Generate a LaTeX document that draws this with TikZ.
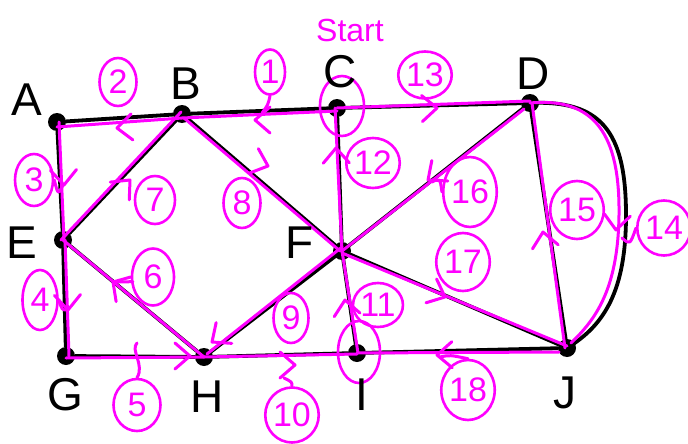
\documentclass[tikz,border=0pt]{standalone}
\usepackage{fontspec}
\setmainfont{Liberation Sans}
\usetikzlibrary{shapes.geometric}
\definecolor{mag}{HTML}{FF00FF}
\begin{document}
\begin{tikzpicture}[x=1pt,y=-1pt,
  dot/.style={circle,fill=black,inner sep=0pt,minimum size=18pt},
  lab/.style={font=\fontsize{46}{46}\selectfont,text=black,inner sep=0pt},
  edge/.style={line width=3.8pt,black,line cap=round},
  trace/.style={line width=3pt,mag,line cap=round,line join=round},
  numc/.style={draw=mag,line width=2.6pt,ellipse,text=mag,inner sep=0pt,
    font=\fontsize{34}{34}\selectfont},
  chev/.pic={\draw[trace] (-15,-13) -- (0,0) -- (-15,13);}]
\useasboundingbox (0,0) rectangle (688,444);
% vertices
\node[dot] (A) at (57,122) {};
\node[dot] (B) at (182,114) {};
\node[dot] (C) at (337,108) {};
\node[dot] (D) at (530,103) {};
\node[dot] (E) at (63,240) {};
\node[dot] (F) at (342,251) {};
\node[dot] (G) at (66,356) {};
\node[dot] (H) at (204,357) {};
\node[dot] (I) at (357,353) {};
\node[dot] (J) at (567,348) {};
% black edges
\draw[edge] (A) -- (B);
\draw[edge] (B) -- (C);
\draw[edge] (C) -- (D);
\draw[edge] (A) -- (E);
\draw[edge] (E) -- (B);
\draw[edge] (B) -- (F);
\draw[edge] (C) -- (F);
\draw[edge] (D) -- (J);
\draw[edge] (D) -- (F);
\draw[edge] (D.center) .. controls (600,100) and (626,130) .. (626,215)
   .. controls (626,290) and (605,325) .. (J.center);
\draw[edge] (E) -- (G);
\draw[edge] (E) -- (H);
\draw[edge] (F) -- (H);
\draw[edge] (F) -- (I);
\draw[edge] (F) -- (J);
\draw[edge] (G) -- (H);
\draw[edge] (H) -- (I);
\draw[edge] (I) -- (J);
% magenta traces (Euler path)
\draw[trace] ([yshift=-3pt]C.center) -- ([yshift=-4pt]B.center);
\draw[trace] ([yshift=-4pt]B.center) -- ([yshift=-5pt]A.center);
\draw[trace] ([xshift=2pt]A.center) -- ([xshift=1pt]E.center);
\draw[trace] ([xshift=2pt]E.center) -- ([xshift=3pt]G.center);
\draw[trace] ([yshift=-2pt]G.center) -- (H.center);
\draw[trace] (H.center) -- (E.center);
\draw[trace] ([xshift=-2pt]E.center) -- ([xshift=-1pt,yshift=2pt]B.center);
\draw[trace] ([xshift=2pt,yshift=-4pt]B.center) -- ([xshift=-2pt]F.center);
\draw[trace] ([yshift=4pt]F.center) -- ([xshift=3pt,yshift=3pt]H.center);
\draw[trace] (H.center) -- ([yshift=-1pt]I.center);
\draw[trace] ([xshift=1pt]I.center) -- (F.center);
\draw[trace] (F.center) -- ([xshift=-2pt]C.center);
\draw[trace] (C.center) -- ([yshift=2pt]D.center);
\draw[trace] (D.center) .. controls (595,97) and (620,135) .. (619,215)
   .. controls (618,290) and (595,320) .. ([xshift=4pt,yshift=5pt]J.center);
\draw[trace] ([xshift=-2pt]J.center) -- ([xshift=2pt]D.center);
\draw[trace] ([xshift=-6pt,yshift=-6pt]D.center) -- (F.center);
\draw[trace] ([yshift=-2pt]F.center) -- ([yshift=2pt]J.center);
\draw[trace] ([xshift=-8pt,yshift=-4pt]J.center) -- (I.center);
% circled C and I
\node[numc,minimum width=44pt,minimum height=60pt] (cC) at (342,106) {};
\node[numc,minimum width=42pt,minimum height=62pt] (cI) at (359,352) {};
% step numbers
\node[numc,minimum width=30pt,minimum height=45pt] (n1) at (270,72) {1};
\node[numc,minimum width=37pt,minimum height=48pt] (n2) at (118,82) {2};
\node[numc,minimum width=38pt,minimum height=52pt] (n3) at (34,180) {3};
\node[numc,minimum width=35pt,minimum height=60pt] (n4) at (40,300) {4};
\node[numc,minimum width=47pt,minimum height=52pt] (n5) at (137,405) {5};
\node[numc,minimum width=42pt,minimum height=57pt] (n6) at (153,277) {6};
\node[numc,minimum width=40pt,minimum height=48pt] (n7) at (155,200) {7};
\node[numc,minimum width=37pt,minimum height=50pt] (n8) at (242,203) {8};
\node[numc,minimum width=35pt,minimum height=50pt] (n9) at (291,318) {9};
\node[numc,minimum width=44pt,minimum height=55pt] (n10) at (292,415) {10};
\node[numc,minimum width=36pt,minimum height=44pt] (n11) at (378,305) {11};
\node[numc,minimum width=42pt,minimum height=50pt] (n12) at (373,163) {12};
\node[numc,minimum width=46pt,minimum height=47pt] (n13) at (425,75) {13};
\node[numc,minimum width=46pt,minimum height=55pt] (n14) at (664,228) {14};
\node[numc,minimum width=44pt,minimum height=58pt] (n15) at (577,210) {15};
\node[numc,minimum width=48pt,minimum height=70pt] (n16) at (470,192) {16};
\node[numc,minimum width=46pt,minimum height=58pt] (n17) at (463,262) {17};
\node[numc,minimum width=47pt,minimum height=60pt] (n18) at (468,390) {18};
% direction marks
\pic[rotate=180] at (255,120) {chev};
\pic[rotate=184] at (117,128) {chev};
\pic[rotate=-88] at (64,185) {chev};
\pic[rotate=-88] at (68,310) {chev};
\pic[rotate=0] at (190,356) {chev};
\pic[rotate=140] at (113,282) {chev};
\pic[rotate=47] at (130,180) {chev};
\pic[rotate=-20] at (268,166) {chev};
\pic[rotate=217] at (212,342) {chev};
\pic[rotate=0] at (295,365) {chev};
\pic[rotate=98] at (345,300) {chev};
\pic[rotate=91] at (336,148) {chev};
\pic[rotate=2] at (437,108) {chev};
\pic[rotate=-95] at (616,230) {chev};
\pic[rotate=99] at (543,232) {chev};
\pic[rotate=218] at (428,180) {chev};
\pic[rotate=-24] at (445,297) {chev};
\pic[rotate=181] at (437,355) {chev};
% leaders from numbers to marks
\draw[trace] (n1.south) .. controls (268,105) .. (262,113);
\draw[trace] (n3.east) .. controls (58,195) .. (63,185);
\draw[trace] (n4.east) .. controls (62,310) .. (67,310);
\draw[trace] (n5.north) .. controls (145,365) and (130,350) .. (137,343);
\draw[trace] (n6.west) -- (113,282);
\draw[trace] (n10.north) .. controls (292,382) .. (284,378);
\draw[trace] (n14.west) .. controls (630,245) .. (622,238);
\draw[trace] (n16.west) .. controls (440,178) .. (432,182);
\draw[trace] (n18.north) .. controls (450,355) .. (440,357);
% labels
\node[lab] (lA) at (27,100) {A};
\node[lab] (lB) at (186,84) {B};
\node[lab] (lC) at (340,72) {C};
\node[lab] (lD) at (533,74) {D};
\node[lab] (lE) at (22,243) {E};
\node[lab] (lF) at (300,243) {F};
\node[lab] (lG) at (65,395) {G};
\node[lab] (lH) at (207,397) {H};
\node[lab] (lI) at (362,395) {I};
\node[lab] (lJ) at (565,393) {J};
\node[text=mag,font=\fontsize{32}{32}\selectfont,inner sep=0pt] (start) at (350,30) {Start};
\end{tikzpicture}
\end{document}
